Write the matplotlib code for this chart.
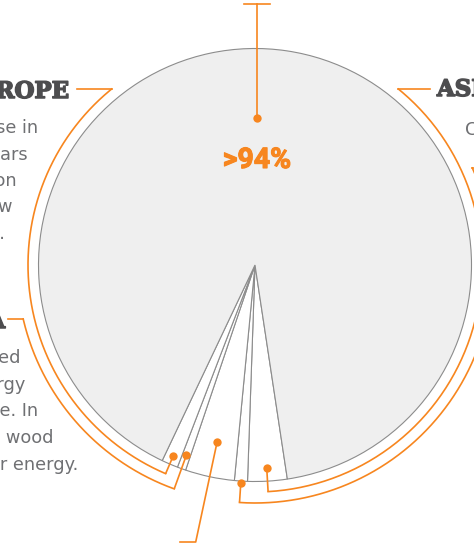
import numpy as np
import matplotlib
matplotlib.use("Agg")
import matplotlib.pyplot as plt
import matplotlib.patheffects as pe

# ---------------- data ----------------
categories = ["Asia", "Oceania", "Americas", "Africa", "Europe", "Rest"]
shares = [2.94, 0.97, 3.67, 0.64, 1.22, 90.56]   # percent of the circle
slice_fills = ["white", "white", "white", "white", "white", "#efefef"]
big_label = ">94%"

titles = ["EUROPE", "AFRICA", "ASIA"]
europe_lines = ["Europe has seen an increase in", "wood energy use in recent years",
                "as a result of policies on", "climate change and new", "technologies."]
africa_lines = ["Wood energy is widely used", "as the main source of energy",
                "for cooking and heating in the home. In", "some countries, wood",
                "provides over 90% of their energy."]
asia_lines = ["China and India"]

# ---------------- style ----------------
ORANGE = "#f7861f"
EDGE = "#8c8c8c"
TITLE_C = "#4d4d4f"
BODY_C = "#6f7073"

W, H = 474, 543
fig = plt.figure(figsize=(W / 100, H / 100), dpi=100)
ax = fig.add_axes([0, 0, 1, 1])

cx, cy, R = 255.0, 265.0, 216.5
start = 81.4
wedges, _ = ax.pie(shares, colors=slice_fills, startangle=start, counterclock=True,
                   center=(cx, cy), radius=R,
                   wedgeprops=dict(edgecolor=EDGE, linewidth=0.8))
ax.set_xlim(0, W)
ax.set_ylim(H, 0)
ax.set_aspect("equal")
ax.axis("off")

# mid angles of each slice (data-angle degrees)
cum = np.concatenate([[0], np.cumsum(shares)])
mids = start + (cum[:-1] + cum[1:]) / 2 * 3.6


def pt(r, ang):
    a = np.deg2rad(ang)
    return cx + r * np.cos(a), cy + r * np.sin(a)


def arc(r, a0, a1, n=200):
    t = np.deg2rad(np.linspace(a0, a1, n))
    return cx + r * np.cos(t), cy + r * np.sin(t)


lw = 1.2
ms = 6.0


def connector(i, r_dot, r_arc, a_end, tail):
    a = mids[i]
    x0, y0 = pt(r_dot, a)
    x1, y1 = pt(r_arc, a)
    ax.plot([x0, x1], [y0, y1], color=ORANGE, lw=lw, solid_capstyle="butt")
    xs, ys = arc(r_arc, a, a_end)
    ax.plot(xs, ys, color=ORANGE, lw=lw)
    ax.plot([xs[-1], tail], [ys[-1], ys[-1]], color=ORANGE, lw=lw)
    ax.plot([x0], [y0], "o", color=ORANGE, ms=ms, mec="none", zorder=5)


def angle_at_y(r, y, side):
    s = (y - cy) / r
    c = np.sqrt(1 - s * s) * side
    return np.rad2deg(np.arctan2(s, c))


# Europe (slice 4), arc to title on the left
a_eu = angle_at_y(227, 89, -1) % 360
connector(4, 208, 227, a_eu, 77)
# Africa (slice 3)
a_af = angle_at_y(238, 319, -1) % 360
connector(3, 202.5, 238, a_af, 8)
# Asia (slice 0)
a_as = angle_at_y(227, 89, 1)
connector(0, 203.7, 227, a_as, 430)
# slice 1 -> label off frame on the right
a_r = angle_at_y(238, 168, 1)
connector(1, 218, 238, a_r, 520)

# slice 2 -> straight line to bottom label
a2 = mids[2]
xd, yd = pt(181, a2)
rb = (542 - cy) / np.sin(np.deg2rad(a2))
xb, yb = pt(rb, a2)
ax.plot([xd, xb, 180], [yd, yb, yb], color=ORANGE, lw=lw)
ax.plot([xd], [yd], "o", color=ORANGE, ms=ms, mec="none", zorder=5)

# big slice label connector (top)
ax.plot([257, 257], [4, 118], color=ORANGE, lw=lw)
ax.plot([244, 270], [4, 4], color=ORANGE, lw=lw)
ax.plot([257], [118], "o", color=ORANGE, ms=ms, mec="none", zorder=5)
ax.text(257, 168, big_label, ha="center", va="baseline", color=ORANGE,
        fontsize=20.5, fontweight="bold", family="Roboto",
        path_effects=[pe.withStroke(linewidth=0.8, foreground=ORANGE)])

# titles
tkw = dict(va="baseline", color=TITLE_C, fontsize=16.5, fontweight="bold",
           family="DejaVu Serif",
           path_effects=[pe.withStroke(linewidth=1.1, foreground=TITLE_C)])
ax.text(69, 98, titles[0], ha="right", **tkw)
ax.text(5, 328, titles[1], ha="right", **tkw)
ax.text(437, 96, titles[2], ha="left", **tkw)

# body text
bkw = dict(va="baseline", color=BODY_C, fontsize=12.8, family="DejaVu Sans")
eu_right = [38, 28, 17, 12, 5]
eu_base = [133, 160, 186, 212, 239]
for s, xr, yb_ in zip(europe_lines, eu_right, eu_base):
    ax.text(xr, yb_, s, ha="right", **bkw)
af_right = [20.5, 25, 38, 53, 78]
af_base = [363, 389.5, 416, 443, 469.5]
for s, xr, yb_ in zip(africa_lines, af_right, af_base):
    ax.text(xr, yb_, s, ha="right", **bkw)
ax.text(465, 135, asia_lines[0], ha="left", **bkw)

fig.savefig("out.png", dpi=100)
